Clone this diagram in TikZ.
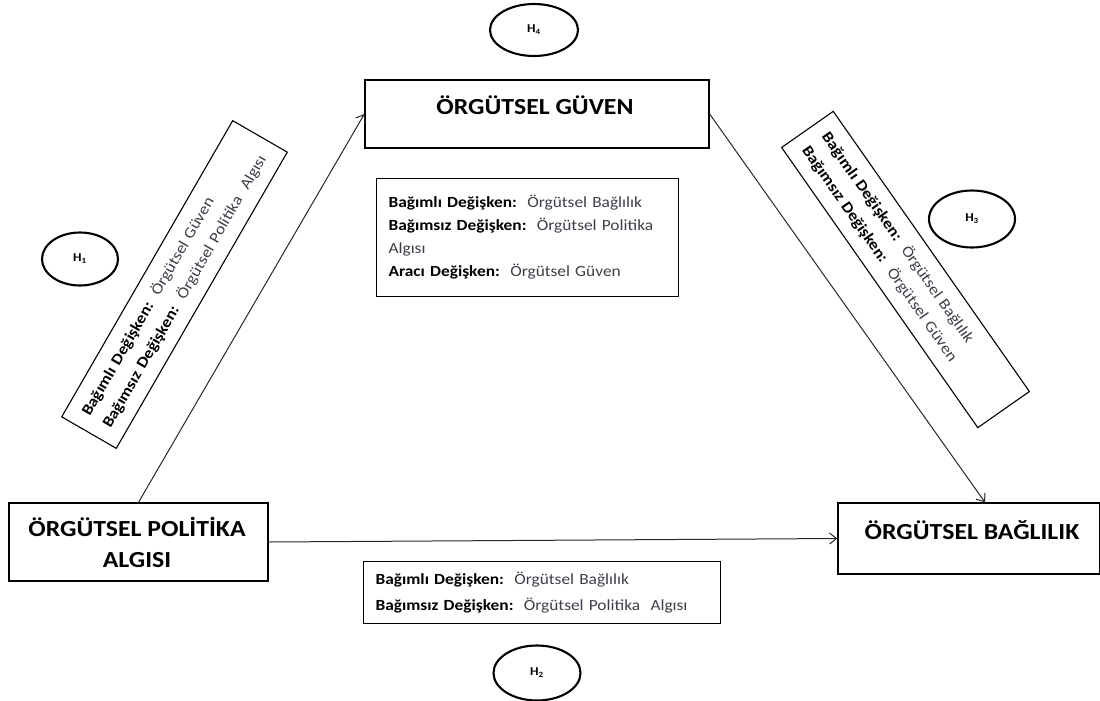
\documentclass[tikz,border=0pt]{standalone}
\usepackage{fontspec}
\setmainfont{Carlito}[FakeStretch=1.12]
\usetikzlibrary{arrows.meta,calc,shapes.geometric}
\definecolor{txtgray}{RGB}{62,62,72}
\definecolor{linegray}{RGB}{40,40,40}
\newcommand{\varb}[2]{\textbf{#1}\ \ {\color{txtgray}#2}}
\begin{document}
\begin{tikzpicture}[x=1pt,y=-1pt,
  mainbox/.style={draw=black, line width=1.3pt, inner sep=0pt},
  headtext/.style={font=\bfseries\fontsize{23}{31}\selectfont, align=center, inner sep=0pt},
  infobox/.style={draw=black, line width=1.1pt, inner xsep=12pt, inner ysep=0pt,
    font=\fontsize{15.5}{23}\selectfont, align=left},
  hyp/.style={draw=black, line width=2.1pt, ellipse, inner sep=0pt,
    font=\bfseries\fontsize{12}{14}\selectfont},
  link/.style={draw=linegray, line width=1pt, -{Straight Barb[length=7pt,width=11pt]}}
]
\useasboundingbox (0,0) rectangle (1100,701);

% construct boxes
\node[mainbox, minimum width=344pt, minimum height=68pt] (guv) at (537,114) {};
\node[headtext] (guvt) at (535,105) {ÖRGÜTSEL GÜVEN};

\node[mainbox, minimum width=259pt, minimum height=78pt] (pol) at (138.5,542) {};
\node[headtext] (polt) at (137,542) {ÖRGÜTSEL POLİTİKA\\ALGISI};

\node[mainbox, minimum width=262pt, minimum height=71pt] (bag) at (969,538.5) {};
\node[headtext] (bagt) at (972,530) {ÖRGÜTSEL BAĞLILIK};

% hypothesis ellipses
\node[hyp, minimum width=88pt, minimum height=52pt] (h4) at (534,30) {H\textsubscript{4}};
\node[hyp, minimum width=76pt, minimum height=53pt] (h1) at (80,259) {H\textsubscript{1}};
\node[hyp, minimum width=86pt, minimum height=57pt] (h3) at (972,219) {H\textsubscript{3}};
\node[hyp, minimum width=87pt, minimum height=55pt] (h2) at (537,673) {H\textsubscript{2}};

% relations
\draw[link] (pol.north) -- (guv.west);
\draw[link] (guv.east) -- ([xshift=16pt]bag.north);
\draw[link] (pol.east) -- (bag.west);

% variable descriptions
\node[infobox, text width=278pt, minimum height=118pt, anchor=north west] (mid) at (376,178)
  {\varb{Bağımlı Değişken:}{Örgütsel Bağlılık}\\
   \varb{Bağımsız Değişken:}{Örgütsel Politika}\\
   {\color{txtgray}Algısı}\\
   \varb{Aracı Değişken:}{Örgütsel Güven}};

\node[infobox, font=\fontsize{15.5}{26}\selectfont, text width=333pt, minimum height=62pt, anchor=north west] (low) at (363,561)
  {\varb{Bağımlı Değişken:}{Örgütsel Bağlılık}\\
   \varb{Bağımsız Değişken:}{Örgütsel Politika\ \ Algısı}};

\node[infobox, inner xsep=14pt, font=\fontsize{15.5}{24}\selectfont, text width=314pt, minimum height=63pt, rotate=60] (left) at (174.5,284.5)
  {\varb{Bağımlı Değişken:}{Örgütsel Güven}\\
   \varb{Bağımsız Değişken:}{Örgütsel Politika\ \ Algısı}};

\node[infobox, inner xsep=14pt, font=\fontsize{15.5}{24}\selectfont, text width=314pt, minimum height=63pt, rotate=-55] (right) at (905.5,269.5)
  {\varb{Bağımlı Değişken:}{Örgütsel Bağlılık}\\
   \varb{Bağımsız Değişken:}{Örgütsel Güven}};
\end{tikzpicture}
\end{document}
